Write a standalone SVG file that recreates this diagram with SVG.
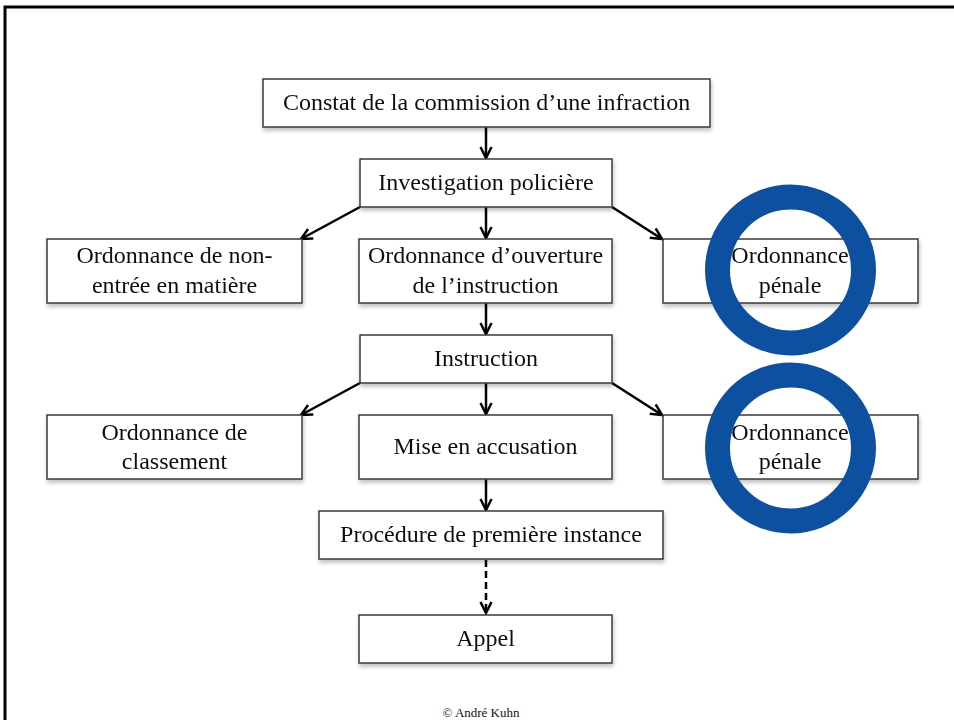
<svg xmlns="http://www.w3.org/2000/svg" width="954" height="720" viewBox="0 0 954 720">
  <defs>
    <filter id="sh" x="-10%" y="-20%" width="130%" height="150%">
      <feGaussianBlur in="SourceAlpha" stdDeviation="2"/>
      <feOffset dx="1" dy="3" result="b"/>
      <feComponentTransfer><feFuncA type="linear" slope="0.25"/></feComponentTransfer>
      <feMerge><feMergeNode/><feMergeNode in="SourceGraphic"/></feMerge>
    </filter>
    <marker id="ah" viewBox="0 0 14 14" refX="12.5" refY="7" markerWidth="14" markerHeight="14" markerUnits="userSpaceOnUse" orient="auto">
      <path d="M1.5,1.5 L12.5,7 L1.5,12.5" fill="none" stroke="#000" stroke-width="2.5" stroke-linejoin="miter"/>
    </marker>
  </defs>
  <style>
    .box { fill: #fff; stroke: #3a3a3a; stroke-width: 1.5; }
    .t { font-family: "Liberation Serif", "Times New Roman", serif; font-size: 24px; fill: #111; text-anchor: middle; }
    .c { fill: none; stroke: #0e50a0; stroke-width: 25; }
    .edge { stroke: #000; stroke-width: 2.5; fill: none; marker-end: url(#ah); }
    .dash { stroke-dasharray: 7 4; }
  </style>
  <rect x="5" y="7" width="970" height="730" fill="#fff" stroke="#000" stroke-width="3"/>

  <g id="connectors">
    <line class="edge" x1="486" y1="127" x2="486" y2="158"/>
    <line class="edge" x1="360" y1="207" x2="301" y2="239"/>
    <line class="edge" x1="486" y1="207" x2="486" y2="238"/>
    <line class="edge" x1="612" y1="207" x2="662" y2="239"/>
    <line class="edge" x1="486" y1="303" x2="486" y2="334"/>
    <line class="edge" x1="360" y1="383" x2="301" y2="415"/>
    <line class="edge" x1="486" y1="383" x2="486" y2="414"/>
    <line class="edge" x1="612" y1="383" x2="662" y2="415"/>
    <line class="edge" x1="486" y1="479" x2="486" y2="510"/>
    <line class="edge dash" x1="486" y1="560" x2="486" y2="613"/>
  </g>

  <g id="n-constat" filter="url(#sh)">
    <rect class="box" x="263" y="79" width="447" height="48"/>
    <text class="t" x="486.5" y="110">Constat de la commission d’une infraction</text>
  </g>
  <g id="n-investigation" filter="url(#sh)">
    <rect class="box" x="360" y="159" width="252" height="48"/>
    <text class="t" x="486" y="190">Investigation policière</text>
  </g>
  <g id="n-nonentree" filter="url(#sh)">
    <rect class="box" x="47" y="239" width="255" height="64"/>
    <text class="t" x="174.5" y="263">Ordonnance de non-</text>
    <text class="t" x="174.5" y="293">entrée en matière</text>
  </g>
  <g id="n-ouverture" filter="url(#sh)">
    <rect class="box" x="359" y="239" width="253" height="64"/>
    <text class="t" x="485.5" y="263">Ordonnance d’ouverture</text>
    <text class="t" x="485.5" y="293">de l’instruction</text>
  </g>
  <g id="n-penale1" filter="url(#sh)">
    <rect class="box" x="663" y="239" width="255" height="64"/>
    <text class="t" x="790" y="263">Ordonnance</text>
    <text class="t" x="790" y="293">pénale</text>
  </g>
  <g id="n-instruction" filter="url(#sh)">
    <rect class="box" x="360" y="335" width="252" height="48"/>
    <text class="t" x="486" y="366">Instruction</text>
  </g>
  <g id="n-classement" filter="url(#sh)">
    <rect class="box" x="47" y="415" width="255" height="64"/>
    <text class="t" x="174.5" y="440">Ordonnance de</text>
    <text class="t" x="174.5" y="469">classement</text>
  </g>
  <g id="n-accusation" filter="url(#sh)">
    <rect class="box" x="359" y="415" width="253" height="64"/>
    <text class="t" x="485.5" y="454">Mise en accusation</text>
  </g>
  <g id="n-penale2" filter="url(#sh)">
    <rect class="box" x="663" y="415" width="255" height="64"/>
    <text class="t" x="790" y="440">Ordonnance</text>
    <text class="t" x="790" y="469">pénale</text>
  </g>
  <g id="n-premiere" filter="url(#sh)">
    <rect class="box" x="319" y="511" width="344" height="48"/>
    <text class="t" x="491" y="542">Procédure de première instance</text>
  </g>
  <g id="n-appel" filter="url(#sh)">
    <rect class="box" x="359" y="615" width="253" height="48"/>
    <text class="t" x="485.5" y="646">Appel</text>
  </g>

  <g id="highlights">
    <circle class="c" cx="790.5" cy="270" r="73"/>
    <circle class="c" cx="790.5" cy="448" r="73"/>
  </g>

  <text x="481" y="717" style="font-family: 'Liberation Serif', 'Times New Roman', serif; font-size: 13px; fill: #111; text-anchor: middle;">© André Kuhn</text>
</svg>
